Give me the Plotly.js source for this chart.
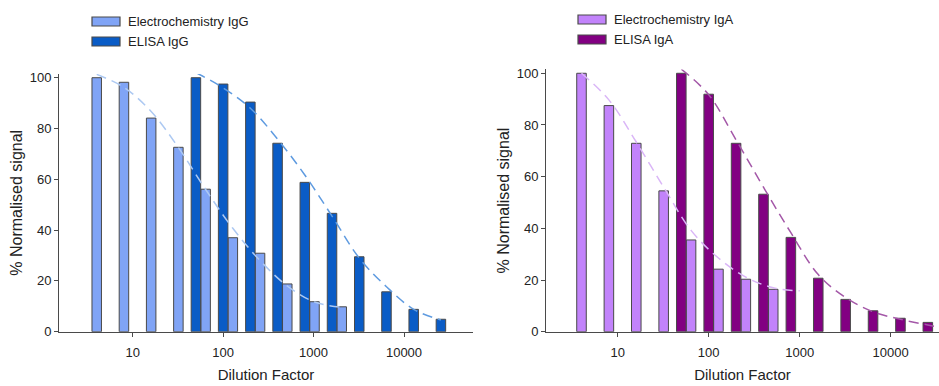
<!DOCTYPE html>
<html>
<head>
<meta charset="utf-8">
<script src="https://cdn.plot.ly/plotly-3.0.1.min.js"></script>
<style>html,body{margin:0;padding:0;background:#fff;}#chart{width:939px;height:386px;}</style>
</head>
<body>
<div id="chart"></div>
<script>
// ---- data (dilution factors and % normalised signal) ----
const dilutionElectro = [4, 8, 16, 32, 64, 128, 256, 512, 1024, 2048];
const dilutionElisa = [50, 100, 200, 400, 800, 1600, 3200, 6400, 12800, 25600];
const electroIgG = [100, 98.2, 84.1, 72.6, 56.1, 37.0, 30.9, 18.8, 11.8, 9.8];
const elisaIgG = [100, 97.5, 90.4, 74.2, 58.8, 46.6, 29.5, 15.7, 8.8, 4.9];
const dilutionElectroIgA = [4, 8, 16, 32, 64, 128, 256, 512];
const electroIgA = [100, 87.5, 72.9, 54.5, 35.5, 24.2, 20.3, 16.4];
const elisaIgA = [100, 91.9, 72.9, 53.2, 36.5, 20.7, 12.5, 8.1, 5.2, 3.6];

// fitted (dashed) curves
const fitDilElectroIgG = [4, 8, 16, 32, 64, 128, 256, 512, 1024, 2048];
const fitElectroIgG = [101.3, 96.2, 86.7, 72.5, 56, 40.7, 28, 18, 11.7, 9.6];
const fitDilElisaIgG = [50, 100, 200, 400, 800, 1600, 3200, 6400, 12800, 25600];
const fitElisaIgG = [102, 96, 88, 75.8, 61.7, 45.5, 29, 17.7, 8.8, 4.6];
const fitDilElectroIgA = [4, 8, 16, 32, 64, 128, 256, 512, 1000];
const fitElectroIgA = [100, 89.7, 73.4, 55.9, 39.2, 28.5, 21.1, 17.0, 15.8];
const fitDilElisaIgA = [50, 100, 200, 400, 800, 1600, 3200, 6400, 12800, 25600, 32000];
const fitElisaIgA = [101.6, 91.7, 74.2, 55.9, 38.3, 22.1, 13.2, 7.7, 4.8, 2.6, 1.9];

const tickVals = [10, 100, 1000, 10000];
const tickText = ['10', '100', '1000', '10000'];
const yTicks = [0, 20, 40, 60, 80, 100];
const legendNames = ['Electrochemistry IgG', 'ELISA IgG', 'Electrochemistry IgA', 'ELISA IgA'];

// ---- styling ----
const FONT = '"Liberation Sans Narrow", "Arial Narrow", "Liberation Sans", Arial, sans-serif';
const C_LIGHT_G = '#80a4f6';
const C_DARK_G = '#0a5cc6';
const C_LIGHT_A = '#c283fb';
const C_DARK_A = '#820082';
const BORDER = '#4a4a4a';
const BW = 0.105; // bar width in decades
const lg = a => a.map(v => Math.log10(v));

function bars(x, y, color, xa, ya, name) {
  return {type: 'bar', x: lg(x), y: y, name: name, xaxis: xa, yaxis: ya,
    width: BW, marker: {color: color, line: {color: BORDER, width: 1}}, showlegend: false};
}
function fit(x, y, color, xa, ya) {
  return {type: 'scatter', mode: 'lines', x: lg(x), y: y, xaxis: xa, yaxis: ya,
    line: {color: color, width: 1.5, dash: '10px,6px', shape: 'spline', smoothing: 1}, showlegend: false, hoverinfo: 'skip'};
}

const data = [
  bars(dilutionElectro, electroIgG, C_LIGHT_G, 'x', 'y', legendNames[0]),
  bars(dilutionElisa, elisaIgG, C_DARK_G, 'x', 'y', legendNames[1]),
  fit(fitDilElectroIgG, fitElectroIgG, '#adc9f2', 'x', 'y'),
  fit(fitDilElisaIgG, fitElisaIgG, '#5f9be0', 'x', 'y'),
  bars(dilutionElectroIgA, electroIgA, C_LIGHT_A, 'x2', 'y2', legendNames[2]),
  bars(dilutionElisa, elisaIgA, C_DARK_A, 'x2', 'y2', legendNames[3]),
  fit(fitDilElectroIgA, fitElectroIgA, '#dab6f7', 'x2', 'y2'),
  fit(fitDilElisaIgA, fitElisaIgA, '#a458a8', 'x2', 'y2')
];

const W = 939, H = 386;
const px = v => v / W, py = v => 1 - v / H;

function xaxis(domain, range, anchor) {
  return {domain: domain, range: range, anchor: anchor, showgrid: false, zeroline: false,
    showline: true, linecolor: BORDER, linewidth: 1, ticks: 'outside', ticklen: 4, tickcolor: BORDER,
    tickvals: lg(tickVals), ticktext: tickText, ticklabelstandoff: 5,
    tickfont: {family: FONT, size: 13, color: '#222'},
    title: {text: 'Dilution Factor', font: {family: FONT, size: 15, color: '#222'}, standoff: 10}};
}
function yaxis(domain, anchor) {
  return {domain: domain, range: [0, 101.5], anchor: anchor, showgrid: false, zeroline: false,
    showline: true, linecolor: BORDER, linewidth: 1, ticks: 'outside', ticklen: 4, tickcolor: BORDER,
    tickvals: yTicks, tickfont: {family: FONT, size: 13, color: '#222'},
    title: {text: '% Normalised signal', font: {family: FONT, size: 16, color: '#222'}, standoff: 3}};
}

// legend-like boxes
function legendItems(x0, yc, color, name) {
  return {
    shape: {type: 'rect', xref: 'paper', yref: 'paper', x0: px(x0), x1: px(x0 + 28), y0: py(yc + 4.5), y1: py(yc - 4.5),
      fillcolor: color, line: {color: BORDER, width: 1.2}},
    ann: {xref: 'paper', yref: 'paper', x: px(x0 + 34), y: py(yc), xanchor: 'left', yanchor: 'middle', showarrow: false,
      text: name, font: {family: FONT, size: 13, color: '#222'}}
  };
}
const leg = [
  legendItems(92, 21.5, C_LIGHT_G, legendNames[0]),
  legendItems(92, 41.5, C_DARK_G, legendNames[1]),
  legendItems(578, 19.5, C_LIGHT_A, legendNames[2]),
  legendItems(578, 39.5, C_DARK_A, legendNames[3])
];

const layout = {
  width: W, height: H, margin: {l: 0, r: 0, t: 0, b: 0}, paper_bgcolor: '#fff', plot_bgcolor: '#fff',
  barmode: 'overlay', showlegend: false,
  xaxis: xaxis([px(59), px(473)], [0.185, 4.763], 'y'),
  yaxis: yaxis([py(331.7), py(73.9)], 'x'),
  xaxis2: xaxis([px(546), 1], [0.212, 4.531], 'y2'),
  yaxis2: yaxis([py(331.7), py(69.4)], 'x2'),
  shapes: leg.map(l => l.shape),
  annotations: leg.map(l => l.ann)
};

Plotly.newPlot('chart', data, layout, {staticPlot: true});
</script>
</body>
</html>
